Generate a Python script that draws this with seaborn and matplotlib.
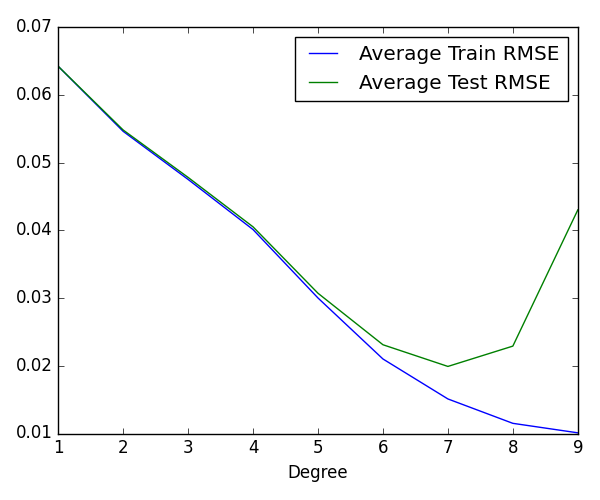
import matplotlib
matplotlib.use("Agg")
import matplotlib.pyplot as plt
import seaborn as sns
import pandas as pd

degrees = [1, 2, 3, 4, 5, 6, 7, 8, 9]
train_rmse = [0.0642, 0.0546, 0.0475, 0.0401, 0.0300, 0.0210, 0.0151, 0.0115, 0.0101]
test_rmse = [0.0642, 0.0548, 0.0478, 0.0405, 0.0307, 0.0231, 0.0199, 0.0229, 0.0430]

plt.style.use("classic")
plt.rcParams['font.family'] = ['DejaVu Sans']

df = pd.DataFrame({
    "Degree": degrees * 2,
    "RMSE": train_rmse + test_rmse,
    "Series": ["Average Train RMSE"] * len(degrees) + ["Average Test RMSE"] * len(degrees),
})

fig = plt.figure(figsize=(6, 5), dpi=100)
ax = fig.add_axes([0.097, 0.133, 0.866, 0.813])
sns.lineplot(data=df, x="Degree", y="RMSE", hue="Series",
             palette={"Average Train RMSE": "blue", "Average Test RMSE": "green"},
             ax=ax, linewidth=1.0)
ax.set_xlim(1, 9)
ax.set_ylim(0.01, 0.07)
ax.set_xticks(degrees)
ax.set_yticks([0.01, 0.02, 0.03, 0.04, 0.05, 0.06, 0.07])
ax.set_yticklabels(["0.01", "0.02", "0.03", "0.04", "0.05", "0.06", "0.07"])
ax.tick_params(labelsize=12)
ax.set_xlabel("Degree", fontsize=12)
ax.set_ylabel("")
ax.legend(loc="upper right", fontsize=14.4, frameon=True, fancybox=False)
fig.savefig("out.png", dpi=100)
